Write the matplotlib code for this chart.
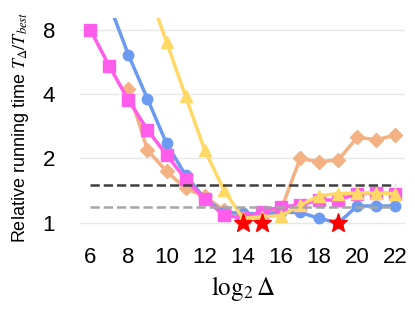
import numpy as np
import matplotlib.pyplot as plt

plt.rcParams['font.family'] = ['Liberation Sans', 'DejaVu Sans']
plt.rcParams['mathtext.fontset'] = 'stix'

# ================= DATA =================
x_blue = [7, 8, 9, 10, 11, 12, 13, 14, 15, 16, 17, 18, 19, 20, 21, 22]
y_blue = [10.5, 6.1, 3.8, 2.35, 1.67, 1.3, 1.12, 1.11, 1.1, 1.12, 1.12, 1.05, 1.0, 1.2, 1.2, 1.2]

x_orange = [8, 9, 10, 11, 12, 13, 14, 15, 16, 17, 18, 19, 20, 21, 22]
y_orange = [4.2, 2.19, 1.74, 1.45, 1.33, 1.15, 1.08, 1.1, 1.15, 2.0, 1.93, 1.97, 2.51, 2.45, 2.57]

x_magenta = [6, 7, 8, 9, 10, 11, 12, 13, 14, 15, 16, 17, 18, 19, 20, 21, 22]
y_magenta = [8.0, 5.4, 3.75, 2.72, 2.08, 1.6, 1.29, 1.09, 1.05, 1.13, 1.19, 1.21, 1.28, 1.28, 1.37, 1.38, 1.37]

x_yellow = [9, 10, 11, 12, 13, 14, 15, 16, 17, 18, 19, 20, 21, 22]
y_yellow = [12.5, 7.0, 3.9, 2.19, 1.43, 1.05, 1.07, 1.08, 1.21, 1.34, 1.37, 1.38, 1.38, 1.37]

x_best = [14, 15, 19]
y_best = [1.0, 1.0, 1.0]

ref_dark = 1.5
ref_light = 1.19
ref_span = [6, 22]

yticks = [1, 2, 4, 8]
xticks = [6, 8, 10, 12, 14, 16, 18, 20, 22]

# ================= PLOT =================
fig = plt.figure(figsize=(4.15, 3.12), dpi=100)
ax = fig.add_axes([0.193, 0.244, 0.783, 0.698])

ax.plot(x_orange, y_orange, '-D', color='#F4B183', lw=2.5, ms=7, zorder=3)
ax.plot(x_blue, y_blue, '-o', color='#6A9BF0', lw=2.5, ms=7.5, zorder=4)
ax.plot(x_magenta, y_magenta, '-s', color='#FF5CEB', lw=2.5, ms=8, zorder=5)
ax.plot(x_yellow, y_yellow, '-^', color='#FFD866', lw=2.5, ms=8, zorder=6)

ax.plot(ref_span, [ref_dark, ref_dark], '--', color='#404040', lw=1.8, zorder=7)
ax.plot(ref_span, [ref_light, ref_light], '--', color='#A6A6A6', lw=1.8, zorder=7)

ax.plot(x_best, y_best, '*', color='red', ms=14, ls='none', zorder=8, clip_on=False)

ax.set_yscale('log', base=2)
ax.set_ylim(0.87, 9.05)
ax.set_xlim(5.47, 22.5)
ax.set_yticks(yticks)
ax.set_yticklabels([str(v) for v in yticks])
ax.set_xticks(xticks)
ax.minorticks_off()
ax.tick_params(length=0, labelsize=16)
ax.tick_params(axis='y', pad=18)
ax.tick_params(axis='x', pad=8)

ax.grid(axis='y', color='#E8E8E8', lw=1)
ax.set_axisbelow(True)
for s in ax.spines.values():
    s.set_visible(False)

ax.set_ylabel(r'Relative running time $T_\Delta/T_{best}$', fontsize=13, labelpad=8)
ax.set_xlabel(r'$\log_2\Delta$', fontsize=18, labelpad=4)

fig.savefig('out.png', dpi=100)
